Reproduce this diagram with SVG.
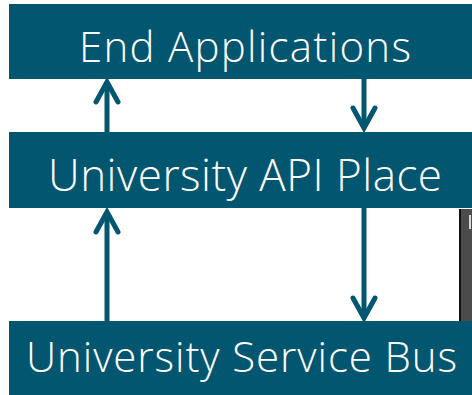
<svg xmlns="http://www.w3.org/2000/svg" width="472" height="395" viewBox="0 0 472 395">
<style>
.box{fill:#03566f}
.lbl{fill:#ffffff;font-family:"Open Sans","Noto Sans",sans-serif;font-size:42px;font-weight:300;text-anchor:middle}
.ln{stroke:#03566f;stroke-width:5;fill:none}
.hd{stroke:#03566f;stroke-width:5;fill:none;stroke-linecap:round;stroke-linejoin:miter}
</style>
<rect x="0" y="0" width="472" height="395" fill="#ffffff"/>
<g id="grey-strip">
<rect x="459" y="209" width="13" height="112" fill="#4b4b4b"/>
<rect x="459" y="209" width="2" height="112" fill="#111111"/>
<rect x="469" y="215" width="2" height="14" fill="#d8d8d8"/>
</g>
<g id="connectors">
<line class="ln" x1="107" y1="132" x2="107" y2="82"/>
<polyline class="hd" points="96,102 107,82 118,102"/>
<line class="ln" x1="364" y1="79" x2="364" y2="128"/>
<polyline class="hd" points="353,108 364,128 375,108"/>
<line class="ln" x1="107" y1="321" x2="107" y2="212"/>
<polyline class="hd" points="96,232 107,212 118,232"/>
<line class="ln" x1="364" y1="208" x2="364" y2="318"/>
<polyline class="hd" points="353,298 364,318 375,298"/>
</g>
<g id="end-applications">
<rect class="box" x="9" y="4" width="463" height="75"/>
<text class="lbl" x="245" y="62" textLength="332" lengthAdjust="spacing">End Applications</text>
</g>
<g id="university-api-place">
<rect class="box" x="9" y="132" width="463" height="76"/>
<text class="lbl" x="245" y="191" style="font-size:44px" textLength="394" lengthAdjust="spacing">University API Place</text>
</g>
<g id="university-service-bus">
<rect class="box" x="9" y="321" width="463" height="74"/>
<text class="lbl" x="241.5" y="372" textLength="431" lengthAdjust="spacing">University Service Bus</text>
</g>
</svg>
